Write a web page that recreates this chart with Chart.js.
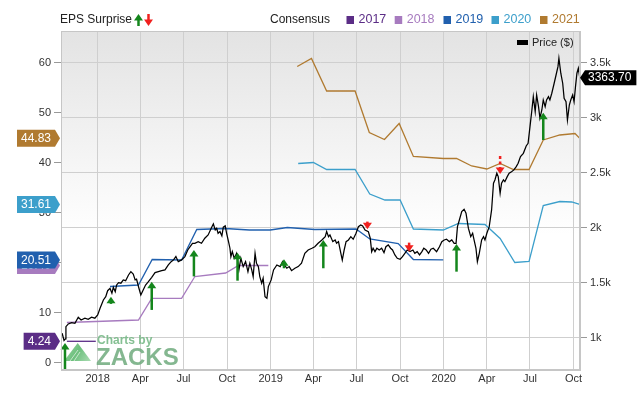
<!DOCTYPE html>
<html><head><meta charset="utf-8">
<script src="https://cdn.jsdelivr.net/npm/chart.js@4.4.0/dist/chart.umd.min.js"></script>
<style>html,body{margin:0;padding:0;background:#fff;}canvas{display:block;}</style>
</head><body>
<canvas id="c" width="640" height="405"></canvas>
<script>
// ---- DATA (x = days since 2018-01-01) ----
const tickDays = [0,90,181,273,365,455,546,638,730,821,912,1004];
const tickLabels = ["2018","Apr","Jul","Oct","2019","Apr","Jul","Oct","2020","Apr","Jul","Oct"];
const leftTicks = [0,10,20,30,40,50,60];
const rightTicks = [1000,1500,2000,2500,3000,3500];

const priceDays = [-75,-71,-68,-67,-62,-55,-48,-41,-35,-27,-20,-13,-6,0,5,12,17,21,26,30,33,37,40,44,49,54,59,65,70,75,79,82,87,91,96,101,107,114,121,128,135,142,149,155,160,165,170,177,184,190,195,200,205,212,219,226,233,241,244,248,251,254,258,262,265,269,272,276,279,281,284,288,293,298,302,307,312,317,321,325,328,332,335,339,342,346,349,353,357,360,366,371,378,385,390,394,399,404,409,416,423,430,437,444,452,458,465,473,480,483,487,490,496,501,504,508,513,516,520,524,529,534,539,545,550,555,559,564,571,575,578,581,585,589,594,599,604,608,613,618,622,627,632,638,643,648,653,659,665,669,674,679,684,688,693,698,703,708,715,721,726,731,736,742,747,752,756,759,763,768,773,777,782,787,791,794,798,801,805,810,814,817,821,826,831,835,838,842,845,849,852,856,859,864,868,873,878,883,887,892,898,904,908,912,916,919,923,926,930,933,937,940,944,947,951,954,958,963,967,971,973,977,981,984,988,991,995,998,1002,1005,1008,1011,1014,1017];
const priceValues = [1040,975,990,1100,1125,1137,1131,1186,1161,1177,1167,1186,1177,1207,1267,1343,1373,1427,1449,1404,1458,1418,1479,1500,1495,1525,1518,1570,1600,1579,1525,1531,1449,1388,1434,1479,1509,1549,1591,1600,1609,1616,1661,1691,1707,1737,1691,1707,1737,1797,1827,1858,1858,1873,1858,1904,1934,2009,2034,1979,1995,1949,1964,1925,2004,2016,1949,1873,1813,1736,1782,1722,1767,1616,1722,1646,1691,1600,1677,1616,1555,1767,1677,1646,1555,1495,1540,1373,1358,1464,1525,1616,1661,1646,1691,1661,1631,1646,1609,1631,1646,1677,1767,1797,1813,1827,1858,1888,1918,1964,1918,1934,1873,1888,1858,1873,1767,1706,1797,1873,1888,1918,1895,1949,2009,2025,2016,1979,1964,1904,1782,1813,1782,1813,1797,1813,1773,1827,1843,1813,1797,1752,1722,1713,1736,1767,1797,1782,1797,1767,1782,1752,1782,1813,1797,1767,1804,1813,1782,1827,1873,1888,1895,1873,1888,1858,1858,2009,2070,2146,2167,2131,1995,1918,1949,1888,1813,1691,1767,1888,1918,1888,1949,2009,2161,2404,2434,2495,2464,2313,2404,2434,2418,2464,2495,2509,2525,2555,2586,2646,2676,2743,2767,2918,3070,3191,3055,3206,3100,2995,3070,3161,3100,3161,3191,3161,3222,3313,3388,3464,3540,3404,3313,3176,3145,2979,3115,3161,3206,3145,3282,3404,3449,3363.70];

const c2017Days = [-65,-4];
const c2017Values = [4.24,4.24];
const c2018Days = [-65,86,114,177,205,270,297,360];
const c2018Values = [8.0,8.5,12.84,12.84,17.2,17.9,19.4,19.4];
const c2019Days = [26,86,115,177,209,269,320,364,400,458,545,574,634,666,729];
const c2019Values = [15.2,15.5,20.6,20.5,26.6,26.8,26.5,26.5,27.0,26.6,26.7,24.7,23.8,20.6,20.51];
const c2020Days = [423,455,483,543,574,606,638,666,729,761,817,849,880,910,940,975,1000,1017];
const c2020Values = [39.8,40.0,38.6,38.6,33.7,32.5,32.5,26.7,26.5,27.8,27.6,24.8,20.0,20.2,31.4,32.2,32.1,31.61];
const c2021Days = [421,451,483,543,573,605,636,666,729,757,789,821,849,877,910,940,975,1007,1017];
const c2021Values = [59.2,60.8,54.3,54.3,46.0,44.6,47.8,41.2,40.8,40.8,39.3,38.7,39.8,38.6,38.6,44.5,45.5,45.8,44.83];

const beatDays = [-69,28,114,203,295,393,476,757,940];
const beatFrom = [706,1307,1252,1557,1518,1631,1631,1600,2797];
const beatTo = [952,1373,1509,1797,1773,1713,1888,1852,3045];
const missDays = [569,657,849];
const missFrom = [2055,1864,2652];
const missTo = [1986,1782,2488];
const missDashed = [false,false,true];

const seriesNames = ["2017","2018","2019","2020","2021"];
const seriesColors = ["#5b2d86","#a77bbf","#2160ae","#3c9fcb","#b07a30"];

// ---- CHART ----
const FONT = "'Liberation Sans', Arial, sans-serif";
Chart.defaults.font.family = FONT;
Chart.defaults.font.size = 11;
Chart.defaults.color = '#333';

const pts = (xs, ys) => xs.map((x, i) => ({x: x, y: ys[i]}));
const consDays = [c2017Days,c2018Days,c2019Days,c2020Days,c2021Days];
const consVals = [c2017Values,c2018Values,c2019Values,c2020Values,c2021Values];

const datasets = [{
  label: 'Price ($)', data: pts(priceDays, priceValues), yAxisID: 'yR',
  borderColor: '#000', borderWidth: 1.25, pointRadius: 0, order: 0
}];
seriesNames.forEach((n, i) => datasets.push({
  label: n, data: pts(consDays[i], consVals[i]), yAxisID: 'yL',
  borderColor: seriesColors[i], borderWidth: 1.3, pointRadius: 0, order: 1
}));

function tag(ctx, tipX, y, text, color, dir, h) {
  ctx.font = '12px ' + FONT;
  const w = ctx.measureText(text).width + 8;
  ctx.fillStyle = color;
  ctx.beginPath();
  if (dir === 'right') {
    const r = tipX - 5, x0 = r - w;
    ctx.moveTo(x0, y - h/2); ctx.lineTo(r, y - h/2); ctx.lineTo(tipX, y);
    ctx.lineTo(r, y + h/2); ctx.lineTo(x0, y + h/2); ctx.closePath(); ctx.fill();
    ctx.fillStyle = '#fff'; ctx.textAlign = 'left'; ctx.textBaseline = 'middle';
    ctx.fillText(text, x0 + 4, y + 0.5);
  } else {
    const l = tipX + 5;
    ctx.moveTo(tipX, y); ctx.lineTo(l, y - h/2); ctx.lineTo(l + w, y - h/2);
    ctx.lineTo(l + w, y + h/2); ctx.lineTo(l, y + h/2); ctx.closePath(); ctx.fill();
    ctx.fillStyle = '#fff'; ctx.textAlign = 'left'; ctx.textBaseline = 'middle';
    ctx.fillText(text, l + 3, y + 0.5);
  }
}
function upArrow(ctx, x, yTip, yBase, color) {
  ctx.strokeStyle = color; ctx.fillStyle = color; ctx.lineWidth = 2.5; ctx.setLineDash([]);
  ctx.beginPath(); ctx.moveTo(x, yBase); ctx.lineTo(x, yTip + 5); ctx.stroke();
  ctx.beginPath(); ctx.moveTo(x - 4.5, yTip + 6.5); ctx.lineTo(x + 4.5, yTip + 6.5); ctx.lineTo(x, yTip); ctx.closePath(); ctx.fill();
}
function downArrow(ctx, x, yTop, yTip, color, dashed) {
  ctx.strokeStyle = color; ctx.fillStyle = color; ctx.lineWidth = 2.5;
  ctx.setLineDash(dashed ? [3, 2.5] : []);
  ctx.beginPath(); ctx.moveTo(x, yTop); ctx.lineTo(x, yTip - 5); ctx.stroke();
  ctx.setLineDash([]);
  ctx.beginPath(); ctx.moveTo(x - 4.5, yTip - 6.5); ctx.lineTo(x + 4.5, yTip - 6.5); ctx.lineTo(x, yTip); ctx.closePath(); ctx.fill();
}

const decor = {
  id: 'decor',
  beforeDraw(chart) {
    const {ctx, chartArea: a} = chart;
    const g = ctx.createLinearGradient(0, a.top, 0, a.bottom);
    g.addColorStop(0, '#e3e3e3'); g.addColorStop(0.6, '#ffffff'); g.addColorStop(1, '#ffffff');
    ctx.save(); ctx.fillStyle = g; ctx.fillRect(a.left, a.top, a.right - a.left, a.bottom - a.top); ctx.restore();
  },
  beforeDatasetsDraw(chart) {
    const ctx = chart.ctx;
    ctx.save();
    // Zacks watermark
    const tg = ctx.createLinearGradient(64, 343, 91, 360);
    tg.addColorStop(0, '#9fd8a8'); tg.addColorStop(0.5, '#6cbf7c'); tg.addColorStop(1, '#a9dcb2');
    ctx.fillStyle = tg;
    ctx.beginPath(); ctx.moveTo(64, 361); ctx.lineTo(77.7, 343); ctx.lineTo(91, 361); ctx.closePath(); ctx.fill();
    ctx.strokeStyle = 'rgba(255,255,255,0.6)'; ctx.lineWidth = 1;
    ctx.beginPath(); ctx.moveTo(70, 361); ctx.lineTo(78, 350); ctx.moveTo(74, 361); ctx.lineTo(80, 352); ctx.stroke();
    ctx.fillStyle = 'rgba(120,185,135,0.9)';
    ctx.font = 'bold 12px ' + FONT; ctx.textAlign = 'left'; ctx.textBaseline = 'alphabetic';
    ctx.fillText('Charts by', 97, 344);
    ctx.fillStyle = 'rgba(110,170,125,0.85)';
    ctx.font = 'bold 24px ' + FONT;
    ctx.fillText('ZACKS', 96, 365);
    ctx.restore();
  },
  afterDatasetsDraw(chart) {
    const {ctx, scales} = chart;
    const xs = scales.x, yr = scales.yR;
    ctx.save();
    beatDays.forEach((d, i) => upArrow(ctx, xs.getPixelForValue(d), yr.getPixelForValue(beatTo[i]), Math.min(yr.getPixelForValue(beatFrom[i]), chart.chartArea.bottom), '#14861c'));
    missDays.forEach((d, i) => downArrow(ctx, xs.getPixelForValue(d), yr.getPixelForValue(missFrom[i]), yr.getPixelForValue(missTo[i]), '#f0201e', missDashed[i]));
    ctx.restore();
  },
  afterDraw(chart) {
    const {ctx, chartArea: a, scales} = chart;
    ctx.save();
    ctx.strokeStyle = '#c6c6c6'; ctx.lineWidth = 1;
    ctx.strokeRect(a.left + 0.5, a.top + 0.5, a.right - a.left - 1, a.bottom - a.top - 1);
    // top legend
    ctx.textBaseline = 'middle'; ctx.textAlign = 'left';
    ctx.font = '12px ' + FONT; ctx.fillStyle = '#222';
    ctx.fillText('EPS Surprise', 60, 20);
    upArrow(ctx, 138.5, 14, 26, '#14861c');
    downArrow(ctx, 148.5, 14, 26, '#f0201e', false);
    ctx.font = '12px ' + FONT; ctx.fillStyle = '#222';
    ctx.fillText('Consensus', 270, 20);
    const sqX = [346.5, 394.7, 443.5, 491.5, 540];
    seriesNames.forEach((n, i) => {
      ctx.fillStyle = seriesColors[i];
      ctx.fillRect(sqX[i], 16, 7.5, 8);
      ctx.font = '12.5px ' + FONT;
      ctx.fillText(n, sqX[i] + 12, 20);
    });
    // price legend
    ctx.fillStyle = '#000'; ctx.fillRect(517, 40, 11, 5);
    ctx.font = '11px ' + FONT; ctx.fillStyle = '#222';
    ctx.fillText('Price ($)', 532, 43);
    // left value tags
    const yl = scales.yL;
    const order = [4, 3, 1, 2, 0];
    order.forEach(i => {
      const vals = consVals[i];
      const v = vals[vals.length - 1];
      tag(ctx, 60, yl.getPixelForValue(v), v.toFixed(2), seriesColors[i], 'right', 17);
    });
    // price tag
    const lp = priceValues[priceValues.length - 1];
    tag(ctx, a.right, scales.yR.getPixelForValue(lp), lp.toFixed(2), '#000', 'left', 15);
    ctx.restore();
  }
};

new Chart(document.getElementById('c'), {
  type: 'line',
  data: {datasets},
  plugins: [decor],
  options: {
    responsive: false, animation: false, devicePixelRatio: 1,
    layout: {padding: {top: 31, left: 0, right: 0, bottom: 0}},
    plugins: {legend: {display: false}, tooltip: {enabled: false}},
    elements: {line: {tension: 0}},
    scales: {
      x: {
        type: 'linear', min: -77.4, max: 1017.5,
        afterFit(s) { s.height = 35; },
        afterBuildTicks(s) { s.ticks = tickDays.map(v => ({value: v})); },
        ticks: {autoSkip: false, maxRotation: 0, padding: 2,
          callback: (v) => { const i = tickDays.indexOf(v); return i >= 0 ? tickLabels[i] : ''; }},
        grid: {color: '#cfcfcf', drawTicks: false},
        border: {color: '#c6c6c6'}
      },
      yL: {
        type: 'linear', position: 'left', min: -1.5, max: 66.3,
        afterFit(s) { s.width = 61; },
        afterBuildTicks(s) { s.ticks = leftTicks.map(v => ({value: v})); },
        ticks: {padding: 3},
        grid: {drawOnChartArea: false, tickLength: 7, tickColor: '#999'},
        border: {color: '#c6c6c6'}
      },
      yR: {
        type: 'linear', position: 'right', min: 706, max: 3788,
        afterFit(s) { s.width = 60; },
        afterBuildTicks(s) { s.ticks = rightTicks.map(v => ({value: v})); },
        ticks: {padding: 3, callback: (v) => (v / 1000) + 'k'},
        grid: {color: '#cfcfcf', tickLength: 7, tickColor: '#999'},
        border: {color: '#c6c6c6'}
      }
    }
  }
});
</script>
</body></html>
